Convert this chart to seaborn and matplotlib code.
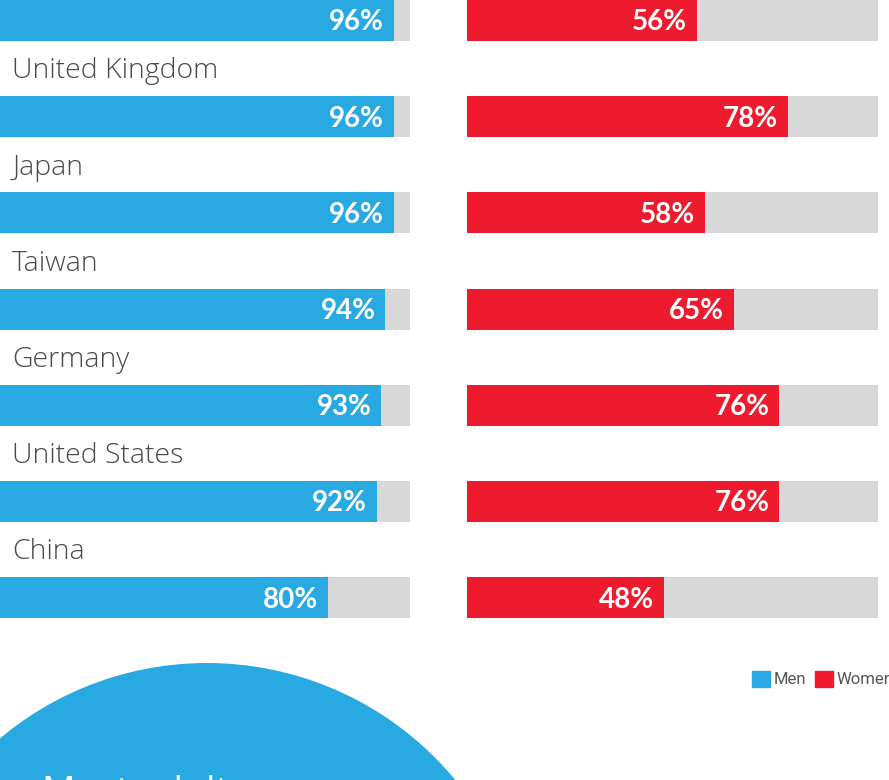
import matplotlib
matplotlib.use("Agg")
import matplotlib.pyplot as plt
import seaborn as sns
import pandas as pd
from matplotlib.patches import Circle, Patch

countries = ["", "United Kingdom", "Japan", "Taiwan", "Germany", "United States", "China"]
men = [96, 96, 96, 94, 93, 92, 80]
women = [56, 78, 58, 65, 76, 76, 48]
full = [100] * len(countries)
circle_text = "Most adults"
legend_labels = ["Men", "Women"]

BLUE = "#29A9E1"
RED = "#EE1B2E"
GREY = "#D8D8D8"
LABEL = "#4A4A4A"

sns.set_theme(style="white")
plt.rcParams["font.family"] = ["Lato", "DejaVu Sans"]

W, H = 889, 780
fig = plt.figure(figsize=(W / 100, H / 100), dpi=100)
fig.patch.set_facecolor("white")

# background axes in pixel coordinates (for the circle)
bg = fig.add_axes([0, 0, 1, 1])
bg.set_xlim(0, W)
bg.set_ylim(H, 0)
bg.axis("off")
bg.add_patch(Circle((207, 985), 322, color=BLUE, lw=0))
bg.text(42, 775, circle_text, color="white", fontsize=27,
        family=["Open Sans", "DejaVu Sans"], ha="left", va="top")

df = pd.DataFrame({"country": countries, "men": men, "women": women, "full": full})

top_px, bot_px = 0, 640
row = 96.2
c0 = 20.5
y_top = (top_px - c0) / row
y_bot = (bot_px - c0) / row
bar_h = 41 / row

panels = [
    ([0 / W, (H - bot_px) / H, 410 / W, (bot_px - top_px) / H], "men", BLUE, True),
    ([467 / W, (H - bot_px) / H, 411 / W, (bot_px - top_px) / H], "women", RED, False),
]

for rect, col, color, show_labels in panels:
    ax = fig.add_axes(rect)
    ax.patch.set_alpha(0)
    sns.barplot(data=df, x="full", y="country", color=GREY, saturation=1,
                width=bar_h, orient="h", errorbar=None, ax=ax, order=countries,
                linewidth=0, edgecolor="none")
    sns.barplot(data=df, x=col, y="country", color=color, saturation=1,
                width=bar_h, orient="h", errorbar=None, ax=ax, order=countries,
                linewidth=0, edgecolor="none")
    ax.set_xlim(0, 100)
    ax.set_ylim(y_bot, y_top)
    ax.axis("off")
    pad = 10 / (rect[2] * W) * 100
    for i, v in enumerate(df[col]):
        ax.text(v - pad, i + 0.02, f"{v}%", color="white", fontsize=20,
                fontweight="bold", ha="right", va="center")
    if show_labels:
        for i, name in enumerate(countries):
            if name:
                ax.text(3.0, i - 0.47, name, color=LABEL, fontsize=20.5,
                        family=["Open Sans", "DejaVu Sans"], fontweight="light",
                        ha="left", va="center")

handles = [Patch(color=BLUE, label=legend_labels[0]),
           Patch(color=RED, label=legend_labels[1])]
fig.legend(handles=handles, loc="center left",
           bbox_to_anchor=(752 / W, 1 - 679 / H), ncol=2, frameon=False,
           handlelength=1.1, handleheight=1.1, handletextpad=0.2,
           columnspacing=0.5, borderpad=0, borderaxespad=0,
           prop={"family": "Roboto", "size": 12}, labelcolor="#555555")

fig.savefig("out.png", dpi=100, facecolor="white")
